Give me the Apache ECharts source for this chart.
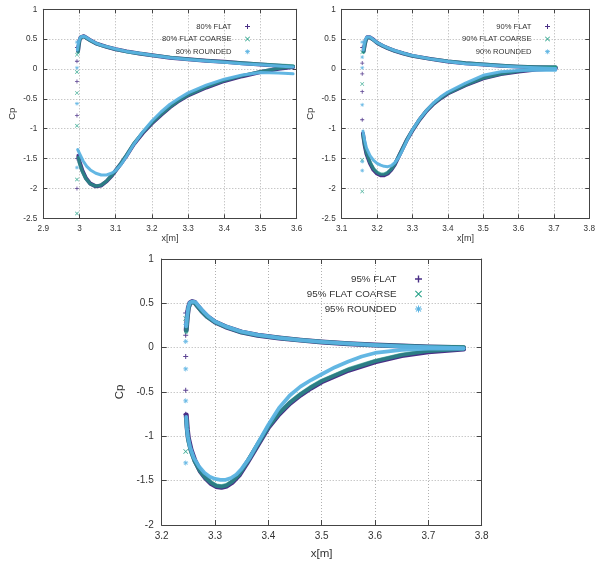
<!DOCTYPE html>
<html>
<head>
<meta charset="utf-8">
<script src="https://cdn.jsdelivr.net/npm/echarts@6/dist/echarts.min.js"></script>
<style>
  html, body { margin: 0; padding: 0; background: #fff; }
  #main { width: 598px; height: 565px; }
</style>
</head>
<body>
<div id="main"></div>
<script>
// ---- 80% case ----
const flat80Up = [[2.996,0.3],[2.998,0.4],[3.0,0.48],[3.003,0.53],[3.007,0.55],[3.012,0.55],[3.02,0.52],[3.03,0.48],[3.045,0.43],[3.06,0.4],[3.075,0.37],[3.1,0.33],[3.13,0.295],[3.165,0.26],[3.2,0.23],[3.25,0.19],[3.3,0.165],[3.35,0.14],[3.4,0.12],[3.45,0.095],[3.5,0.075],[3.55,0.055],[3.59,0.04]]
const flat80Lo = [[2.997,-1.45],[3.0,-1.55],[3.008,-1.7],[3.018,-1.83],[3.03,-1.92],[3.045,-1.965],[3.06,-1.95],[3.075,-1.88],[3.09,-1.78],[3.1,-1.7],[3.115,-1.58],[3.13,-1.45],[3.15,-1.26],[3.175,-1.07],[3.2,-0.91],[3.225,-0.77],[3.25,-0.64],[3.275,-0.53],[3.3,-0.44],[3.35,-0.31],[3.4,-0.2],[3.45,-0.12],[3.5,-0.05],[3.55,0.005],[3.59,0.035]]
const flat80Le = [[2.993,0.36],[2.993,0.13],[2.993,-0.21],[2.993,-0.78],[2.993,-1.5],[2.993,-2.0]]
const coarse80Up = [[2.996,0.28],[2.998,0.39],[3.0,0.47],[3.003,0.525],[3.007,0.55],[3.012,0.545],[3.02,0.515],[3.03,0.475],[3.045,0.43],[3.06,0.395],[3.075,0.37],[3.1,0.33],[3.13,0.29],[3.165,0.26],[3.2,0.23],[3.25,0.195],[3.3,0.165],[3.35,0.14],[3.4,0.12],[3.45,0.1],[3.5,0.08],[3.55,0.065],[3.59,0.05]]
const coarse80Lo = [[2.997,-1.48],[3.0,-1.58],[3.008,-1.72],[3.018,-1.84],[3.03,-1.925],[3.045,-1.96],[3.06,-1.945],[3.075,-1.875],[3.09,-1.775],[3.1,-1.7],[3.115,-1.575],[3.13,-1.44],[3.15,-1.25],[3.175,-1.06],[3.2,-0.9],[3.225,-0.76],[3.25,-0.635],[3.275,-0.525],[3.3,-0.435],[3.35,-0.3],[3.4,-0.19],[3.45,-0.11],[3.5,-0.045],[3.55,0.01],[3.59,0.04]]
const coarse80Le = [[2.993,0.24],[2.993,-0.05],[2.993,-0.4],[2.993,-0.95],[2.993,-1.85],[2.993,-2.42]]
const round80Up = [[2.994,0.32],[2.997,0.43],[3.0,0.5],[3.004,0.54],[3.008,0.555],[3.013,0.55],[3.02,0.525],[3.03,0.485],[3.045,0.435],[3.06,0.4],[3.075,0.375],[3.1,0.335],[3.13,0.295],[3.165,0.265],[3.2,0.23],[3.25,0.19],[3.3,0.16],[3.35,0.135],[3.4,0.115],[3.45,0.09],[3.5,0.07],[3.55,0.05],[3.59,0.035]]
const round80Lo = [[2.995,-1.35],[2.998,-1.38],[3.002,-1.44],[3.01,-1.54],[3.02,-1.63],[3.03,-1.69],[3.045,-1.745],[3.06,-1.775],[3.075,-1.775],[3.09,-1.74],[3.1,-1.7],[3.115,-1.6],[3.13,-1.46],[3.15,-1.26],[3.175,-1.05],[3.2,-0.87],[3.225,-0.72],[3.25,-0.59],[3.275,-0.49],[3.3,-0.4],[3.35,-0.27],[3.4,-0.17],[3.45,-0.1],[3.5,-0.06],[3.55,-0.065],[3.59,-0.08]]
const round80Le = [[2.993,0.45],[2.993,0.02],[2.993,-0.58],[2.993,-1.65]]

// ---- 90% case ----
const flat90Up = [[3.162,0.3],[3.165,0.4],[3.168,0.48],[3.172,0.53],[3.176,0.54],[3.18,0.53],[3.19,0.49],[3.2,0.44],[3.215,0.39],[3.23,0.35],[3.25,0.305],[3.275,0.26],[3.3,0.22],[3.35,0.17],[3.4,0.125],[3.45,0.095],[3.5,0.075],[3.55,0.055],[3.6,0.04],[3.65,0.03],[3.705,0.025]]
const flat90Lo = [[3.16,-1.08],[3.165,-1.28],[3.17,-1.42],[3.18,-1.58],[3.19,-1.69],[3.2,-1.75],[3.21,-1.78],[3.22,-1.78],[3.23,-1.75],[3.24,-1.69],[3.25,-1.6],[3.26,-1.48],[3.27,-1.36],[3.285,-1.18],[3.3,-1.03],[3.32,-0.85],[3.34,-0.7],[3.36,-0.58],[3.38,-0.49],[3.4,-0.41],[3.45,-0.27],[3.5,-0.155],[3.55,-0.085],[3.6,-0.04],[3.65,-0.01],[3.705,0.01]]
const flat90Le = [[3.158,0.36],[3.158,0.1],[3.158,-0.08],[3.158,-0.38],[3.158,-0.85]]
const coarse90Up = [[3.162,0.28],[3.165,0.39],[3.168,0.47],[3.172,0.525],[3.176,0.54],[3.18,0.525],[3.19,0.485],[3.2,0.44],[3.215,0.39],[3.23,0.35],[3.25,0.305],[3.275,0.26],[3.3,0.22],[3.35,0.17],[3.4,0.13],[3.45,0.1],[3.5,0.08],[3.55,0.06],[3.6,0.045],[3.65,0.035],[3.705,0.035]]
const coarse90Lo = [[3.16,-1.1],[3.165,-1.27],[3.17,-1.4],[3.18,-1.56],[3.19,-1.67],[3.2,-1.73],[3.21,-1.76],[3.22,-1.76],[3.23,-1.735],[3.24,-1.68],[3.25,-1.59],[3.26,-1.475],[3.27,-1.355],[3.285,-1.175],[3.3,-1.025],[3.32,-0.845],[3.34,-0.695],[3.36,-0.575],[3.38,-0.485],[3.4,-0.405],[3.45,-0.265],[3.5,-0.15],[3.55,-0.08],[3.6,-0.035],[3.65,0.0],[3.705,0.025]]
const coarse90Le = [[3.158,0.28],[3.158,-0.25],[3.158,-1.52],[3.158,-2.05]]
const round90Up = [[3.161,0.32],[3.164,0.42],[3.167,0.49],[3.171,0.535],[3.175,0.545],[3.18,0.535],[3.19,0.49],[3.2,0.445],[3.215,0.395],[3.23,0.355],[3.25,0.31],[3.275,0.265],[3.3,0.225],[3.35,0.17],[3.4,0.125],[3.45,0.09],[3.5,0.07],[3.55,0.05],[3.6,0.035],[3.65,0.02],[3.705,0.01]]
const round90Lo = [[3.16,-1.04],[3.165,-1.2],[3.17,-1.32],[3.18,-1.45],[3.19,-1.53],[3.2,-1.58],[3.21,-1.61],[3.22,-1.63],[3.23,-1.635],[3.24,-1.62],[3.25,-1.57],[3.26,-1.49],[3.27,-1.38],[3.285,-1.19],[3.3,-1.02],[3.32,-0.84],[3.34,-0.69],[3.36,-0.565],[3.38,-0.465],[3.4,-0.385],[3.45,-0.235],[3.5,-0.105],[3.55,-0.045],[3.6,-0.025],[3.65,-0.015],[3.705,-0.02]]
const round90Le = [[3.158,0.45],[3.158,0.2],[3.158,0.02],[3.158,-0.6],[3.158,-1.55],[3.158,-1.7]]

// ---- 95% case ----
const flat95Up = [[3.246,0.2],[3.248,0.35],[3.25,0.45],[3.253,0.505],[3.257,0.52],[3.262,0.51],[3.268,0.465],[3.275,0.415],[3.285,0.355],[3.3,0.29],[3.32,0.235],[3.35,0.175],[3.38,0.14],[3.42,0.11],[3.46,0.085],[3.5,0.065],[3.55,0.045],[3.6,0.03],[3.65,0.018],[3.7,0.008],[3.766,0.0]]
const flat95Lo = [[3.246,-0.76],[3.248,-0.92],[3.25,-1.02],[3.255,-1.15],[3.262,-1.27],[3.272,-1.39],[3.282,-1.47],[3.292,-1.53],[3.302,-1.565],[3.312,-1.575],[3.322,-1.56],[3.332,-1.52],[3.345,-1.44],[3.36,-1.3],[3.38,-1.1],[3.4,-0.9],[3.42,-0.75],[3.44,-0.63],[3.46,-0.535],[3.48,-0.455],[3.5,-0.385],[3.55,-0.255],[3.6,-0.16],[3.65,-0.09],[3.7,-0.045],[3.766,-0.015]]
const flat95Le = [[3.245,0.39],[3.245,0.14],[3.245,-0.1],[3.245,-0.48],[3.245,-0.75]]
const coarse95Up = [[3.246,0.18],[3.248,0.33],[3.25,0.44],[3.253,0.5],[3.257,0.515],[3.262,0.505],[3.268,0.46],[3.275,0.41],[3.285,0.35],[3.3,0.29],[3.32,0.235],[3.35,0.175],[3.38,0.14],[3.42,0.11],[3.46,0.085],[3.5,0.065],[3.55,0.045],[3.6,0.03],[3.65,0.02],[3.7,0.01],[3.766,0.005]]
const coarse95Lo = [[3.246,-0.8],[3.248,-0.95],[3.25,-1.05],[3.255,-1.17],[3.262,-1.28],[3.272,-1.39],[3.282,-1.465],[3.292,-1.52],[3.302,-1.555],[3.312,-1.565],[3.322,-1.55],[3.332,-1.51],[3.345,-1.43],[3.36,-1.29],[3.38,-1.09],[3.4,-0.89],[3.42,-0.74],[3.44,-0.62],[3.46,-0.525],[3.48,-0.445],[3.5,-0.375],[3.55,-0.245],[3.6,-0.15],[3.65,-0.08],[3.7,-0.035],[3.766,-0.01]]
const coarse95Le = [[3.245,0.33],[3.245,-1.17]]
const round95Up = [[3.246,0.24],[3.248,0.37],[3.25,0.46],[3.253,0.51],[3.258,0.52],[3.263,0.515],[3.27,0.465],[3.278,0.41],[3.288,0.35],[3.3,0.295],[3.32,0.24],[3.35,0.18],[3.38,0.145],[3.42,0.11],[3.46,0.085],[3.5,0.065],[3.55,0.045],[3.6,0.028],[3.65,0.015],[3.7,0.005],[3.766,-0.005]]
const round95Lo = [[3.246,-0.78],[3.247,-0.9],[3.249,-1.0],[3.253,-1.12],[3.26,-1.24],[3.27,-1.34],[3.28,-1.41],[3.29,-1.455],[3.3,-1.48],[3.31,-1.49],[3.32,-1.49],[3.33,-1.47],[3.34,-1.43],[3.35,-1.365],[3.365,-1.24],[3.38,-1.08],[3.4,-0.87],[3.42,-0.68],[3.44,-0.54],[3.46,-0.44],[3.48,-0.365],[3.5,-0.3],[3.525,-0.22],[3.55,-0.155],[3.575,-0.1],[3.6,-0.06],[3.65,-0.025],[3.7,-0.012],[3.766,-0.01]]
const round95Le = [[3.245,0.26],[3.245,0.07],[3.245,-0.24],[3.245,-0.6],[3.245,-1.3]]

const caseTags = ['80%', '90%', '95%']
const kindNames = ['FLAT', 'FLAT COARSE', 'ROUNDED']

// marker shapes (gnuplot style + x *)
const PLUS = 'path://M4,0H6V4H10V6H6V10H4V6H0V4H4Z'
const CROSS = 'path://M1,0L5,4L9,0L10,1L6,5L10,9L9,10L5,6L1,10L0,9L4,5L0,1Z'
const STAR = 'path://M4.3,0H5.7V3.3L8.1,0.9L9.1,1.9L6.7,4.3H10V5.7H6.7L9.1,8.1L8.1,9.1L5.7,6.7V10H4.3V6.7L1.9,9.1L0.9,8.1L3.3,5.7H0V4.3H3.3L0.9,1.9L1.9,0.9L4.3,3.3Z'
const kindStyle = [
  { color: '#4a2f86', icon: PLUS, width: 4, opacity: 1 },
  { color: '#1f9e84', icon: CROSS, width: 3.4, opacity: 0.7 },
  { color: '#5bb3e2', icon: STAR, width: 3, opacity: 0.95 },
]

const panels = [
  { grid: { left: 43.3, top: 9.3, width: 253.4, height: 209 }, x: [2.9, 3.6], y: [-2.5, 1], big: false,
    legend: { right: 343, top: 17.5 },
    sets: [[flat80Up, flat80Lo, flat80Le], [coarse80Up, coarse80Lo, coarse80Le], [round80Up, round80Lo, round80Le]] },
  { grid: { left: 341.7, top: 9.3, width: 252, height: 209 }, x: [3.1, 3.8], y: [-2.5, 1], big: false,
    legend: { right: 43, top: 17.5 },
    sets: [[flat90Up, flat90Lo, flat90Le], [coarse90Up, coarse90Lo, coarse90Le], [round90Up, round90Lo, round90Le]] },
  { grid: { left: 161.7, top: 259, width: 320, height: 266 }, x: [3.2, 3.8], y: [-2, 1], big: true,
    legend: { right: 171, top: 269 },
    sets: [[flat95Up, flat95Lo, flat95Le], [coarse95Up, coarse95Lo, coarse95Le], [round95Up, round95Lo, round95Le]] },
]

const FONT = 'Liberation Sans'
const borderColor = '#444'

const grid = []
const xAxis = []
const yAxis = []
const legend = []
const series = []

panels.forEach((p, i) => {
  const k = p.big ? 1.25 : 1
  const tickFont = p.big ? 10 : 8.2
  grid.push(p.grid)
  const common = {
    gridIndex: i,
    type: 'value',
    interval: 0.1,
    axisLine: { show: true, onZero: false, lineStyle: { color: borderColor, width: 1 } },
    axisTick: { show: true, inside: true, length: p.big ? 5 : 4, lineStyle: { color: borderColor } },
  }
  // bottom x axis with labels
  xAxis.push(Object.assign({}, common, {
    position: 'bottom', min: p.x[0], max: p.x[1],
    name: 'x[m]', nameLocation: 'middle', nameGap: p.big ? 23 : 16,
    nameTextStyle: { fontFamily: FONT, fontSize: p.big ? 11.5 : 9, color: '#333' },
    axisLabel: { fontFamily: FONT, fontSize: tickFont, color: '#333', margin: 6 },
    splitLine: { show: true, lineStyle: { type: [1, 2], color: '#b0b0b0' } },
  }))
  // top x axis: mirrored ticks only
  xAxis.push(Object.assign({}, common, {
    position: 'top', min: p.x[0], max: p.x[1],
    axisLabel: { show: false }, splitLine: { show: false },
  }))
  yAxis.push(Object.assign({}, common, {
    interval: 0.5, position: 'left', min: p.y[0], max: p.y[1],
    name: 'Cp', nameLocation: 'middle', nameGap: p.big ? 36 : 26,
    nameTextStyle: { fontFamily: FONT, fontSize: p.big ? 11.5 : 9.5, color: '#333' },
    axisLabel: { fontFamily: FONT, fontSize: tickFont, color: '#333', margin: p.big ? 8 : 6 },
    splitLine: { show: true, lineStyle: { type: [1, 2], color: '#b0b0b0' } },
  }))
  yAxis.push(Object.assign({}, common, {
    interval: 0.5, position: 'right', min: p.y[0], max: p.y[1],
    axisLabel: { show: false }, splitLine: { show: false },
  }))

  const names = kindNames.map((n) => caseTags[i] + ' ' + n)
  legend.push({
    orient: 'vertical', align: 'right', selectedMode: false,
    right: p.legend.right, top: p.legend.top,
    itemWidth: p.big ? 34 : 22, itemHeight: p.big ? 7 : 5, itemGap: p.big ? 5 : 4.6,
    textStyle: { fontFamily: FONT, fontSize: p.big ? 9.8 : 7.6, color: '#333' },
    itemStyle: { borderWidth: 0 },
    data: names.map((n, j) => ({ name: n, icon: kindStyle[j].icon })),
  })

  p.sets.forEach((set, j) => {
    const st = kindStyle[j]
    const lineOpts = {
      type: 'line', name: names[j], xAxisIndex: 2 * i, yAxisIndex: 2 * i,
      showSymbol: false, silent: true, z: 2 + j,
      color: st.color,
      lineStyle: { color: st.color, width: st.width * k, opacity: st.opacity, cap: 'round', join: 'round' },
    }
    series.push(Object.assign({}, lineOpts, { data: set[0] }))
    series.push(Object.assign({}, lineOpts, { data: set[1] }))
    series.push({
      type: 'scatter', name: names[j], xAxisIndex: 2 * i, yAxisIndex: 2 * i,
      symbol: st.icon, symbolSize: p.big ? 5 : 4, silent: true, z: 2 + j,
      itemStyle: { color: st.color, opacity: 0.9 },
      data: set[2],
    })
  })
})

const chart = echarts.init(document.getElementById('main'))
chart.setOption({
  animation: false,
  backgroundColor: '#fff',
  grid, xAxis, yAxis, legend, series,
})
</script>
</body>
</html>
